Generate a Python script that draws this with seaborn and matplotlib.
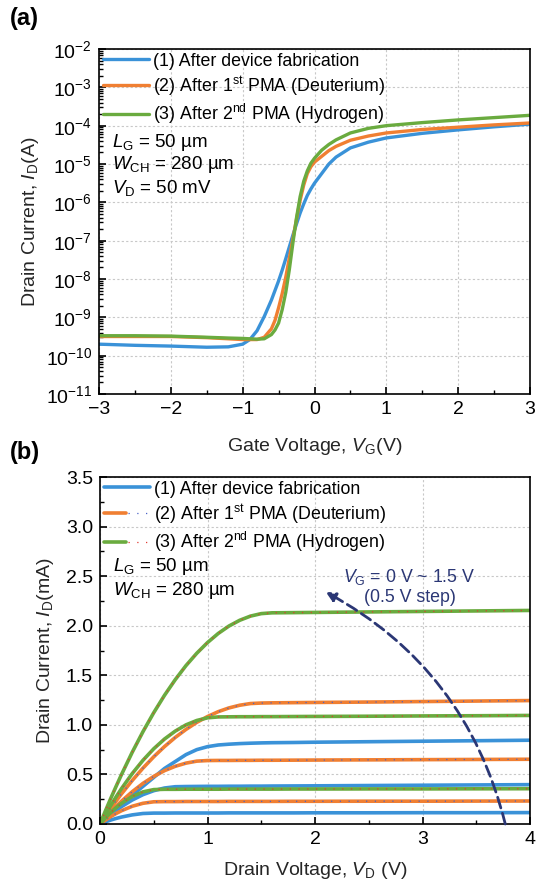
import numpy as np
import pandas as pd
import seaborn as sns
import matplotlib.pyplot as plt
from matplotlib.ticker import MultipleLocator, LogLocator, NullFormatter
from matplotlib.legend_handler import HandlerTuple

# ---- (a) transfer curves, log10(I_D [A]) vs V_G [V] ----
vg = [-3.0, -2.5, -2.0, -1.5, -1.2, -1.0, -0.9, -0.8, -0.7, -0.6, -0.55, -0.5, -0.45,
      -0.4, -0.35, -0.3, -0.25, -0.2, -0.15, -0.1, -0.05, 0.0, 0.1, 0.2, 0.3, 0.5,
      0.75, 1.0, 1.5, 2.0, 2.5, 3.0]
log_id_fab = [-9.70, -9.73, -9.75, -9.78, -9.77, -9.70, -9.58, -9.35, -8.98, -8.55, -8.30,
              -8.05, -7.77, -7.47, -7.16, -6.85, -6.56, -6.28, -6.04, -5.82, -5.65, -5.50,
              -5.25, -5.00, -4.82, -4.58, -4.43, -4.32, -4.20, -4.11, -4.03, -3.96]
log_id_d2 = [-9.50, -9.50, -9.50, -9.53, -9.56, -9.58, -9.58, -9.58, -9.52, -9.30, -9.08,
             -8.75, -8.38, -7.95, -7.45, -6.95, -6.43, -5.95, -5.55, -5.25, -5.07, -4.95,
             -4.80, -4.65, -4.54, -4.38, -4.27, -4.19, -4.10, -4.04, -3.98, -3.93]
log_id_h2 = [-9.48, -9.48, -9.49, -9.52, -9.54, -9.55, -9.56, -9.57, -9.56, -9.45, -9.33,
             -9.15, -8.80, -8.35, -7.75, -7.05, -6.40, -5.85, -5.45, -5.18, -4.98, -4.85,
             -4.64, -4.49, -4.37, -4.19, -4.07, -4.00, -3.92, -3.85, -3.79, -3.73]

# ---- (b) output curves, I_D [mA] vs V_D [V], V_G = 0 ~ 1.5 V ----
vd = [0, 0.05, 0.1, 0.15, 0.2, 0.3, 0.4, 0.5, 0.6, 0.7, 0.8, 0.9, 1.0, 1.1, 1.2, 1.3,
      1.4, 1.5, 1.6, 1.8, 2.0, 2.5, 3.0, 3.5, 4.0]
out_fab = [
    [0, 0.021, 0.040, 0.056, 0.070, 0.092, 0.106, 0.110, 0.110, 0.111, 0.111, 0.111,
     0.111, 0.111, 0.112, 0.112, 0.112, 0.112, 0.112, 0.112, 0.113, 0.113, 0.114,
     0.114, 0.115],
    [0, 0.048, 0.094, 0.136, 0.175, 0.242, 0.296, 0.336, 0.363, 0.376, 0.378, 0.379,
     0.380, 0.380, 0.381, 0.381, 0.382, 0.382, 0.383, 0.384, 0.385, 0.388, 0.391,
     0.394, 0.397],
    [0, 0.044, 0.090, 0.140, 0.190, 0.290, 0.380, 0.470, 0.560, 0.630, 0.700, 0.750,
     0.780, 0.797, 0.805, 0.811, 0.815, 0.818, 0.820, 0.822, 0.825, 0.830, 0.835,
     0.840, 0.845],
]
out_d2 = [
    [0, 0.039, 0.075, 0.106, 0.134, 0.179, 0.209, 0.224, 0.226, 0.226, 0.227, 0.227,
     0.227, 0.227, 0.228, 0.228, 0.228, 0.228, 0.228, 0.229, 0.229, 0.230, 0.230,
     0.231, 0.232],
    [0, 0.062, 0.122, 0.178, 0.230, 0.326, 0.410, 0.480, 0.538, 0.582, 0.614, 0.634,
     0.640, 0.641, 0.641, 0.642, 0.642, 0.643, 0.643, 0.644, 0.645, 0.647, 0.649,
     0.651, 0.653],
    [0, 0.080, 0.157, 0.232, 0.304, 0.439, 0.564, 0.678, 0.781, 0.873, 0.954, 1.025,
     1.084, 1.133, 1.171, 1.198, 1.215, 1.220, 1.222, 1.224, 1.226, 1.230, 1.235,
     1.240, 1.245],
]
out_h2 = [
    [0, 0.061, 0.116, 0.165, 0.208, 0.278, 0.324, 0.347, 0.350, 0.350, 0.351, 0.351,
     0.351, 0.351, 0.352, 0.352, 0.352, 0.352, 0.352, 0.353, 0.353, 0.354, 0.354,
     0.355, 0.356],
    [0, 0.096, 0.187, 0.274, 0.357, 0.509, 0.643, 0.759, 0.857, 0.937, 1.000, 1.044,
     1.071, 1.080, 1.081, 1.082, 1.082, 1.083, 1.083, 1.084, 1.085, 1.087, 1.090,
     1.092, 1.095],
    [0, 0.131, 0.258, 0.380, 0.499, 0.724, 0.932, 1.123, 1.298, 1.456, 1.598, 1.722,
     1.830, 1.922, 1.997, 2.055, 2.097, 2.122, 2.130, 2.132, 2.134, 2.139, 2.144,
     2.149, 2.154],
]

labels = ["(1) After device fabrication",
          "(2) After 1$^\\mathregular{st}$ PMA (Deuterium)",
          "(3) After 2$^\\mathregular{nd}$ PMA (Hydrogen)"]
colors = ["#3a92d8", "#f07f32", "#6aab3f"]
dot_colors = [None, "#4a62c8", "#e03a30"]

sns.set_theme(style="ticks")
plt.rcParams["font.family"] = ["Liberation Sans", "DejaVu Sans"]
plt.rcParams["mathtext.fontset"] = "custom"
plt.rcParams["mathtext.rm"] = "Liberation Sans"
plt.rcParams["mathtext.it"] = "Liberation Sans:italic"
plt.rcParams["axes.linewidth"] = 1.2
plt.rcParams["axes.edgecolor"] = "black"
plt.rcParams["text.color"] = "black"
plt.rcParams["xtick.color"] = "black"
plt.rcParams["ytick.color"] = "black"

fig = plt.figure(figsize=(5.36, 8.90), dpi=100)
ax1 = fig.add_axes([99 / 536, 1 - 394 / 890, 431 / 536, 345 / 890])
ax2 = fig.add_axes([100 / 536, 1 - 824 / 890, 430 / 536, 347 / 890])


def style_axis(ax):
    ax.grid(True, which="major", color="#c8c8c8", linestyle=(0, (2, 2)), linewidth=0.8)
    ax.tick_params(which="both", direction="in", top=False, right=False,
                   labelsize=14, pad=5)
    ax.tick_params(which="major", length=5, width=1.2)
    ax.tick_params(which="minor", length=3, width=1.0)
    for s in ax.spines.values():
        s.set_visible(True)
        s.set_linewidth(1.2)
        s.set_color("black")


# ---- panel (a) ----
df_a = pd.DataFrame({"vg": vg,
                     labels[0]: 10 ** np.array(log_id_fab),
                     labels[1]: 10 ** np.array(log_id_d2),
                     labels[2]: 10 ** np.array(log_id_h2)})
handles_a = []
for lab, col in zip(labels, colors):
    sns.lineplot(data=df_a, x="vg", y=lab, color=col, lw=2.4, ax=ax1, legend=False)
    handles_a.append(ax1.lines[-1])
ax1.set_yscale("log")
ax1.set_xlim(-3, 3)
ax1.set_ylim(1e-11, 1e-2)
ax1.xaxis.set_major_locator(MultipleLocator(1))
ax1.xaxis.set_minor_locator(MultipleLocator(0.5))
ax1.yaxis.set_major_locator(LogLocator(base=10, numticks=20))
ax1.yaxis.set_minor_locator(LogLocator(base=10, subs=np.arange(2, 10), numticks=20))
ax1.yaxis.set_minor_formatter(NullFormatter())
style_axis(ax1)
ax1.set_xlabel("Gate Voltage, $V_\\mathrm{G}$(V)", fontsize=14, labelpad=13)
ax1.set_ylabel("Drain Current, $I_\\mathrm{D}$(A)", fontsize=14, labelpad=3)
ax1.legend(handles_a, labels, loc="upper left", frameon=False, fontsize=12.8,
           handlelength=2.6, handletextpad=0.25, labelspacing=0.25,
           borderaxespad=0.1, borderpad=0.1)
ax1.text(0.03, 0.730, "$L_\\mathrm{G}$ = 50 µm", transform=ax1.transAxes,
         fontsize=13.5, va="center")
ax1.text(0.03, 0.664, "$W_\\mathrm{CH}$ = 280 µm", transform=ax1.transAxes,
         fontsize=13.5, va="center")
ax1.text(0.03, 0.598, "$V_\\mathrm{D}$ = 50 mV", transform=ax1.transAxes,
         fontsize=13.5, va="center")

# ---- panel (b) ----
handles_b = []
for sets, lab, col, dcol in zip([out_fab, out_d2, out_h2], labels, colors, dot_colors):
    for curve in sets:
        sns.lineplot(x=vd, y=curve, color=col, lw=2.6, ax=ax2, legend=False)
        main = ax2.lines[-1]
        if dcol is not None:
            sns.lineplot(x=vd, y=curve, color=dcol, lw=0.9, ax=ax2, legend=False,
                         linestyle=(0, (1, 6)))
    if dcol is not None:
        handles_b.append((main, ax2.lines[-1]))
    else:
        handles_b.append(main)
ax2.set_xlim(0, 4)
ax2.set_ylim(0, 3.5)
ax2.xaxis.set_major_locator(MultipleLocator(1))
ax2.xaxis.set_minor_locator(MultipleLocator(0.5))
ax2.yaxis.set_major_locator(MultipleLocator(0.5))
ax2.yaxis.set_minor_locator(MultipleLocator(0.25))
ax2.yaxis.set_major_formatter(plt.FuncFormatter(lambda v, p: f"{v:.1f}"))
style_axis(ax2)
ax2.set_xlabel("Drain Voltage, $V_\\mathrm{D}$ (V)", fontsize=14, labelpad=9)
ax2.set_ylabel("Drain Current, $I_\\mathrm{D}$(mA)", fontsize=14, labelpad=7)
ax2.legend(handles_b, labels, loc="upper left", frameon=False, fontsize=12.8,
           handlelength=2.6, handletextpad=0.25, labelspacing=0.25,
           borderaxespad=0.1, borderpad=0.1,
           handler_map={tuple: HandlerTuple(ndivide=None)})
ax2.text(0.03, 0.741, "$L_\\mathrm{G}$ = 50 µm", transform=ax2.transAxes,
         fontsize=13.5, va="center")
ax2.text(0.03, 0.674, "$W_\\mathrm{CH}$ = 280 µm", transform=ax2.transAxes,
         fontsize=13.5, va="center")

navy = "#2b3775"
ax2.text(2.88, 2.40, "$V_\\mathrm{G}$ = 0 V ~ 1.5 V\n(0.5 V step)", color=navy,
         fontsize=12.8, ha="center", va="center", linespacing=1.15)
ax2.annotate("", xy=(2.1, 2.34), xytext=(3.77, 0.0),
             arrowprops=dict(arrowstyle="-|>", color=navy, lw=2,
                             linestyle=(0, (4, 2)), mutation_scale=14,
                             connectionstyle="arc3,rad=0.22", shrinkA=0, shrinkB=0))

fig.text(10 / 536, 1 - 18 / 890, "(a)", fontsize=17, fontweight="bold", va="center")
fig.text(10 / 536, 1 - 452 / 890, "(b)", fontsize=17, fontweight="bold", va="center")

fig.savefig("out.png", dpi=100)
